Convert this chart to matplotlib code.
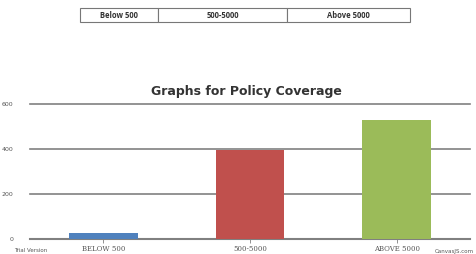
import matplotlib.pyplot as plt

CATEGORIES = ['BELOW 500', '500-5000', 'ABOVE 5000']
VALUES = [25, 395, 530]
COLORS = ['#4f81bd', '#c0504d', '#9bbb59']
TABLE_LABELS = ['Below 500', '500-5000', 'Above 5000']
TABLE_WIDTHS = [78, 129, 123]

W, H = 477, 254
fig = plt.figure(figsize=(W / 100, H / 100), dpi=100)

# header table
tax = fig.add_axes([80 / W, 1 - 22 / H, 330 / W, 14 / H])
tax.axis('off')
tot = sum(TABLE_WIDTHS)
tbl = tax.table(cellText=[TABLE_LABELS], colWidths=[w / tot for w in TABLE_WIDTHS],
                cellLoc='center', bbox=[0, 0, 1, 1])
tbl.auto_set_font_size(False)
for (r, c), cell in tbl.get_celld().items():
    cell.set_edgecolor('#777777')
    cell.set_linewidth(0.8)
    cell.get_text().set_fontsize(5.5)
    cell.get_text().set_fontweight('bold')
    cell.get_text().set_color('#333333')
    cell.get_text().set_family('Open Sans')

# chart
ax = fig.add_axes([30 / W, 1 - 239 / H, 440 / W, 135 / H])
x = range(len(CATEGORIES))
ax.bar(x, VALUES, width=0.47, color=COLORS, zorder=3)
ax.set_xlim(-0.5, 2.5)
ax.set_ylim(0, 600)
ax.set_yticks([0, 200, 400, 600])
ax.yaxis.grid(True, color='#808080', linewidth=1.2, zorder=0)
for gl in ax.get_ygridlines():
    gl.set_clip_on(False)
ax.set_axisbelow(True)
for s in ['top', 'right', 'left']:
    ax.spines[s].set_visible(False)
ax.spines['bottom'].set_color('#808080')
ax.spines['bottom'].set_linewidth(1.5)
ax.set_xticks(list(x))
ax.set_xticklabels(CATEGORIES, fontsize=5, family='DejaVu Serif', color='#555555')
ax.tick_params(axis='x', length=3, width=0.6, color='#808080', pad=1)
ax.tick_params(axis='y', length=0, labelsize=4.5, labelcolor='#555555', pad=12)

fig.text(246 / W, 1 - 91 / H, 'Graphs for Policy Coverage', ha='center', va='center',
         fontsize=9, fontweight='heavy', family='DejaVu Sans', color='#333333')
fig.text(14 / W, 1 - 251 / H, 'Trial Version', fontsize=4, color='#555555', va='center')
fig.text(474 / W, 1 - 252 / H, 'CanvasJS.com', fontsize=4, color='#555555', va='center', ha='right')

fig.savefig('out.png', dpi=100)
